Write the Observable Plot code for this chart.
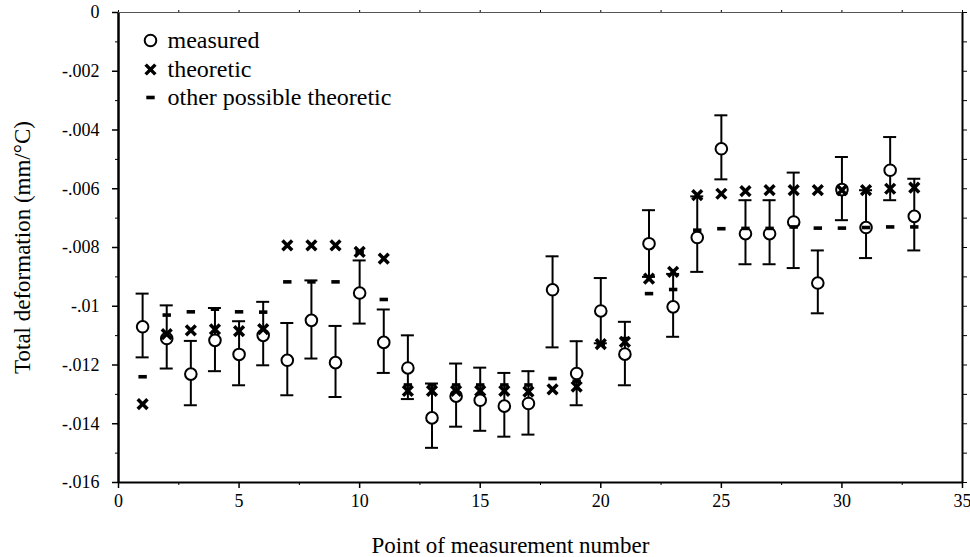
<!DOCTYPE html>
<html>
<head>
<meta charset="utf-8">
<script src="https://cdn.jsdelivr.net/npm/d3@7"></script>
<script src="https://cdn.jsdelivr.net/npm/@observablehq/plot@0.6"></script>
<style>
  html, body { margin: 0; padding: 0; background: #fff; }
  #chart { width: 970px; height: 557px; }
  #chart svg, #chart svg text { font-family: "Liberation Serif", "Times New Roman", serif !important; }
</style>
</head>
<body>
<div id="chart"></div>
<script>
// Point of measurement number
const points = [1,2,3,4,5,6,7,8,9,10,11,12,13,14,15,16,17,18,19,20,21,22,23,24,25,26,27,28,29,30,31,32,33];
// measured total deformation (mm/°C)
const measured = [-0.01070,-0.01110,-0.01231,-0.01116,-0.01164,-0.01099,-0.01184,-0.01048,-0.01192,-0.00955,-0.01123,-0.01210,-0.01380,-0.01306,-0.01320,-0.01340,-0.01331,-0.00944,-0.01229,-0.01016,-0.01163,-0.00787,-0.01002,-0.00766,-0.00464,-0.00753,-0.00753,-0.00713,-0.00921,-0.00603,-0.00732,-0.00537,-0.00694];
// error bar upper end
const errUpper = [-0.00957,-0.00997,-0.01118,-0.01006,-0.01051,-0.00985,-0.01057,-0.00912,-0.01067,-0.00844,-0.01011,-0.01099,-0.01263,-0.01195,-0.01209,-0.01227,-0.01221,-0.00830,-0.01119,-0.00904,-0.01053,-0.00673,-0.00890,-0.00626,-0.00350,-0.00639,-0.00639,-0.00545,-0.00810,-0.00492,-0.00605,-0.00424,-0.00566];
// error bar lower end
const errLower = [-0.01174,-0.01212,-0.01337,-0.01221,-0.01269,-0.01201,-0.01303,-0.01178,-0.01309,-0.01059,-0.01227,-0.01316,-0.01482,-0.01410,-0.01424,-0.01444,-0.01437,-0.01140,-0.01337,-0.01126,-0.01269,-0.00900,-0.01104,-0.00883,-0.00568,-0.00857,-0.00857,-0.00870,-0.01024,-0.00707,-0.00836,-0.00639,-0.00810];
// theoretic
const theoretic = [-0.01333,-0.01095,-0.01082,-0.01079,-0.01085,-0.01078,-0.00793,-0.00793,-0.00793,-0.00815,-0.00838,-0.01288,-0.01288,-0.01288,-0.01288,-0.01288,-0.01291,-0.01283,-0.01274,-0.01129,-0.01121,-0.00906,-0.00883,-0.00622,-0.00617,-0.00608,-0.00605,-0.00605,-0.00605,-0.00605,-0.00605,-0.00600,-0.00596];
// other possible theoretic
const otherTheoretic = [-0.01240,-0.01030,-0.01019,-0.01010,-0.01019,-0.01020,-0.00917,-0.00917,-0.00917,-0.00815,-0.00977,-0.01268,-0.01268,-0.01268,-0.01268,-0.01268,-0.01268,-0.01246,-0.01255,-0.01129,-0.01110,-0.00957,-0.00943,-0.00741,-0.00736,-0.00735,-0.00735,-0.00730,-0.00734,-0.00734,-0.00732,-0.00730,-0.00730];

const xTicks = [0,5,10,15,20,25,30,35];
const xMinor = [2.5,7.5,12.5,17.5,22.5,27.5,32.5];
const yTicks = [0,-0.002,-0.004,-0.006,-0.008,-0.01,-0.012,-0.014,-0.016];
const yMinor = [-0.001,-0.003,-0.005,-0.007,-0.009,-0.011,-0.013,-0.015];
const legendLabels = ["measured","theoretic","other possible theoretic"];
const xTitle = "Point of measurement number";
const yTitle = "Total deformation (mm/°C)";

const data = points.map((p, i) => ({
  p, m: measured[i], hi: errUpper[i], lo: errLower[i], t: theoretic[i], o: otherTheoretic[i]
}));

const dashSymbol = { draw(ctx) { ctx.rect(-4.2, -1.8, 8.4, 3.6); } };
const fmtY = d => d === 0 ? "0" : d3.format(".3~f")(d).replace("0.", ".").replace("\u2212", "-");
const serif = "'Liberation Serif', 'Times New Roman', serif";

const chart = Plot.plot({
  width: 970,
  height: 557,
  marginLeft: 118,
  marginRight: 8,
  marginTop: 12,
  marginBottom: 75,
  style: { fontFamily: serif, fontSize: "18px", background: "#fff", color: "#000" },
  x: { domain: [0, 35] },
  y: { domain: [-0.016, 0] },
  marks: [
    // axes
    Plot.axisX({ ticks: xTicks, tickSize: 6, tickPadding: 6, tickFormat: d3.format("d"), label: null, strokeWidth: 1.5 }),
    Plot.axisX({ ticks: xMinor, tickSize: 3, text: null, label: null }),
    Plot.axisX({ anchor: "top", ticks: xTicks.concat(xMinor), tickSize: 3, text: null, label: null }),
    Plot.axisY({ ticks: yTicks, tickSize: 6, tickPadding: 13, tickFormat: fmtY, label: null, strokeWidth: 1.5 }),
    Plot.axisY({ ticks: yMinor, tickSize: 3, text: null, label: null }),
    Plot.axisY({ anchor: "right", ticks: yTicks.concat(yMinor), tickSize: 4, text: null, label: null }),
    Plot.ruleY([-0.016], { strokeWidth: 2.2 }),
    Plot.ruleX([0], { strokeWidth: 2.5 }),
    Plot.ruleX([35], { strokeWidth: 2 }),
    Plot.ruleY([0], { strokeWidth: 1, stroke: "#555" }),
    // axis titles
    Plot.text([xTitle], { frameAnchor: "bottom-left", text: d => d, dx: 253, dy: 70, fontSize: 23, textAnchor: "start", lineAnchor: "bottom", fontFamily: serif }),
    Plot.text([yTitle], { frameAnchor: "left", text: d => d, dx: -96, rotate: -90, fontSize: 23, textAnchor: "middle", lineAnchor: "middle", fontFamily: serif }),
    // error bars
    Plot.ruleX(data, { x: "p", y1: "lo", y2: "hi", strokeWidth: 2 }),
    Plot.ruleY(data, { y: "hi", x1: d => d.p - 0.27, x2: d => d.p + 0.27, strokeWidth: 2 }),
    Plot.ruleY(data, { y: "lo", x1: d => d.p - 0.27, x2: d => d.p + 0.27, strokeWidth: 2 }),
    // measured
    Plot.dot(data, { x: "p", y: "m", r: 5.8, fill: "white", stroke: "black", strokeWidth: 2 }),
    // other possible theoretic
    Plot.dot(data, { x: "p", y: "o", symbol: dashSymbol, fill: "black", stroke: "none", r: 4 }),
    // theoretic
    Plot.dot(data, { x: "p", y: "t", symbol: "times", r: 4.5, stroke: "black", strokeWidth: 3.5 }),
    // legend
    Plot.dot([legendLabels[0]], { frameAnchor: "top-left", dx: 32, dy: 28, r: 5.8, fill: "white", stroke: "black", strokeWidth: 2 }),
    Plot.dot([legendLabels[1]], { frameAnchor: "top-left", dx: 32, dy: 57, symbol: "times", r: 4.5, stroke: "black", strokeWidth: 3.5 }),
    Plot.dot([legendLabels[2]], { frameAnchor: "top-left", dx: 32, dy: 85, symbol: dashSymbol, fill: "black", stroke: "none", r: 4 }),
    Plot.text([legendLabels[0]], { frameAnchor: "top-left", text: d => d, dx: 49, dy: 28, fontSize: 24, textAnchor: "start", lineAnchor: "middle", fontFamily: serif }),
    Plot.text([legendLabels[1]], { frameAnchor: "top-left", text: d => d, dx: 49, dy: 57, fontSize: 24, textAnchor: "start", lineAnchor: "middle", fontFamily: serif }),
    Plot.text([legendLabels[2]], { frameAnchor: "top-left", text: d => d, dx: 49, dy: 85, fontSize: 24, textAnchor: "start", lineAnchor: "middle", fontFamily: serif })
  ]
});

document.getElementById("chart").appendChild(chart);
</script>
</body>
</html>
